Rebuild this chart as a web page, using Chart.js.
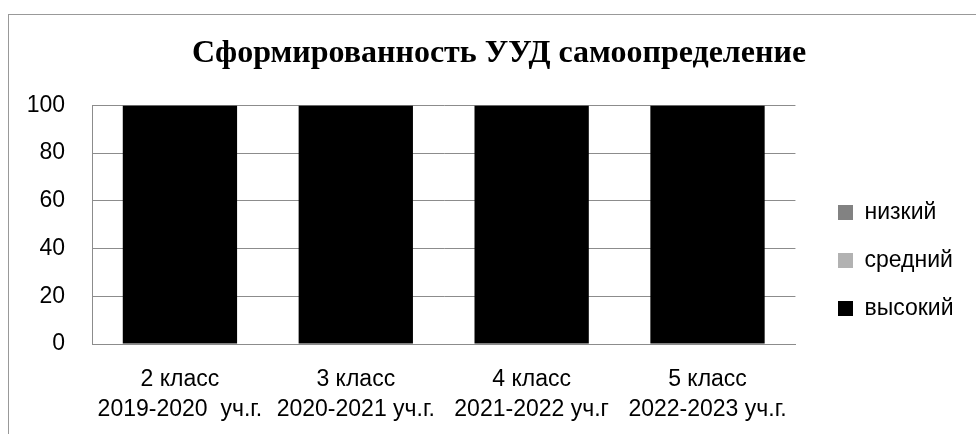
<!DOCTYPE html>
<html>
<head>
<meta charset="utf-8">
<script src="https://cdn.jsdelivr.net/npm/chart.js@4"></script>
<style>
    html, body { margin: 0; padding: 0; background: #fff; overflow: hidden; }
    #frame { position: absolute; left: 8px; top: 14px; width: 1100px; height: 600px; border: 1px solid #999; }
    #wrap { position: absolute; left: 0; top: 0; width: 976px; height: 434px; }
</style>
</head>
<body>
<div id="frame"></div>
<div id="wrap"><canvas id="uudChart"></canvas></div>
<script>
// Categories (two-line labels)
const classes = [
    ['2 класс', '2019-2020  уч.г.'],
    ['3 класс', '2020-2021 уч.г.'],
    ['4 класс', '2021-2022 уч.г'],
    ['5 класс', '2022-2023 уч.г.']
];

// Series values, %
const high = [100, 100, 100, 100];
const mid = [0, 0, 0, 0];
const low = [0, 0, 0, 0];

const yTicks = [0, 20, 40, 60, 80, 100];

const sansFont = '"Liberation Sans", Arial, sans-serif';

// Nudge title and legend to where the original Excel chart puts them
const placeBlocks = {
    id: 'placeBlocks',
    afterLayout(chart) {
        const t = chart.titleBlock;
        if (t) {
            const dx = 499 - (t.left + t.right) / 2;
            t.left += dx;
            t.right += dx;
        }
        const lg = chart.legend;
        if (lg) {
            const pad = lg.options.labels.padding;
            const dx = 838 - (lg.left + pad);
            const dy = 176 - lg.top;
            lg.left += dx; lg.right += dx;
            lg.top += dy; lg.bottom += dy;
        }
    }
};

new Chart(document.getElementById('uudChart'), {
    type: 'bar',
    data: {
        labels: classes,
        datasets: [
            { label: 'высокий', data: high, backgroundColor: '#000000' },
            { label: 'средний', data: mid, backgroundColor: '#b2b2b2' },
            { label: 'низкий', data: low, backgroundColor: '#828282' }
        ]
    },
    plugins: [placeBlocks],
    options: {
        responsive: true,
        maintainAspectRatio: false,
        animation: false,
        datasets: {
            bar: { barPercentage: 0.65, categoryPercentage: 1 }
        },
        layout: { padding: { left: 22, right: 30, top: 0, bottom: 0 } },
        plugins: {
            title: {
                display: true,
                text: 'Сформированность УУД самоопределение',
                color: '#000',
                font: { family: '"Liberation Serif", "Times New Roman", serif', size: 32, weight: 'bold' },
                padding: { top: 35, bottom: 32 }
            },
            legend: {
                position: 'right',
                align: 'start',
                reverse: true,
                labels: {
                    color: '#000',
                    font: { family: sansFont, size: 23 },
                    boxWidth: 15,
                    boxHeight: 15,
                    padding: 25
                }
            },
            tooltip: { enabled: false }
        },
        scales: {
            x: {
                stacked: true,
                grid: { display: false, drawTicks: false },
                border: { display: true, color: '#8c8c8c' },
                ticks: {
                    color: '#000',
                    font: { family: sansFont, size: 23, lineHeight: 1.3 },
                    maxRotation: 0,
                    autoSkip: false,
                    padding: 21
                },
                afterFit: function(scale) { scale.height = 90; }
            },
            y: {
                stacked: true,
                min: 0,
                max: 100,
                afterBuildTicks: function(scale) {
                    scale.ticks = yTicks.map(v => ({ value: v }));
                },
                grid: { color: '#8c8c8c', drawTicks: false },
                border: { display: true, color: '#8c8c8c' },
                ticks: { color: '#000', font: { family: sansFont, size: 23 }, padding: 27 },
                afterFit: function(scale) { scale.width = 70; }
            }
        }
    }
});
</script>
</body>
</html>
